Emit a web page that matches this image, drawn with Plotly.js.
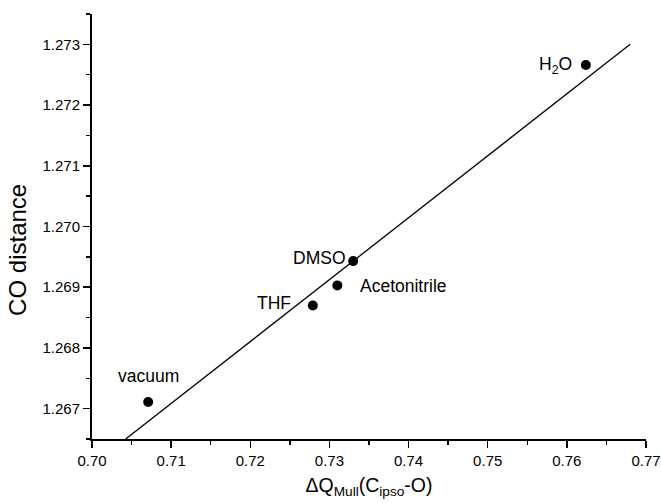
<!DOCTYPE html>
<html>
<head>
<meta charset="utf-8">
<script src="https://cdn.plot.ly/plotly-3.0.1.min.js"></script>
<style>html,body{margin:0;padding:0;background:#fff;}#chart{width:661px;height:503px;}</style>
</head>
<body>
<div id="chart"></div>
<script>
const solvents = ["vacuum", "THF", "Acetonitrile", "DMSO", "H<sub>2</sub>O"];
const dqMull = [0.7071, 0.7279, 0.7310, 0.7330, 0.7624];
const coDistance = [1.26711, 1.26870, 1.26903, 1.26943, 1.27266];
const fitX = [0.70426, 0.76800];
const fitY = [1.26650, 1.27300];
const xTickVals = [0.70, 0.71, 0.72, 0.73, 0.74, 0.75, 0.76, 0.77];
const yTickVals = [1.267, 1.268, 1.269, 1.270, 1.271, 1.272, 1.273];
const xTitle = "ΔQ<sub>Mull</sub>(C<sub>ipso</sub>-O)";
const yTitle = "CO distance";

const font = "Arial, 'Liberation Sans', sans-serif";
// label offsets (px) relative to each point
const labelShift = [
  {ax: 0, ay: -26, xanchor: "center"},
  {ax: -20, ay: -2, xanchor: "right"},
  {ax: 21, ay: 1, xanchor: "left"},
  {ax: -5, ay: -3, xanchor: "right"},
  {ax: -12, ay: 0, xanchor: "right"}
];

const traces = [
  {x: fitX, y: fitY, mode: "lines", line: {color: "#000", width: 1.3}, hoverinfo: "skip", showlegend: false},
  {x: dqMull, y: coDistance, mode: "markers", marker: {color: "#000", size: 10}, showlegend: false}
];

const annotations = solvents.map((s, i) => ({
  x: dqMull[i], y: coDistance[i], xref: "x", yref: "y",
  text: s, showarrow: false,
  xanchor: labelShift[i].xanchor, yanchor: "middle",
  xshift: labelShift[i].ax, yshift: -labelShift[i].ay,
  font: {family: font, size: 17.5, color: "#000"}
}));
// y-axis title, placed as in the reference (slightly below the axis centre)
annotations.push({
  x: 0, y: 0.445, xref: "paper", yref: "paper", xanchor: "center", yanchor: "middle",
  xshift: -74, text: yTitle, textangle: -90, showarrow: false,
  font: {family: font, size: 24, color: "#000"}
});

const layout = {
  width: 661, height: 503,
  margin: {l: 92, r: 15, t: 14, b: 64},
  paper_bgcolor: "#fff", plot_bgcolor: "#fff",
  font: {family: font, color: "#000"},
  showlegend: false,
  xaxis: {
    range: [0.70, 0.77], tickvals: xTickVals, ticktext: xTickVals.map(v => v.toFixed(2)),
    ticks: "outside", ticklen: 7, tickwidth: 1.5, tickcolor: "#000",
    minor: {dtick: 0.005, ticks: "outside", ticklen: 4, tickwidth: 1.5, tickcolor: "#000", showgrid: false},
    showline: true, linecolor: "#000", linewidth: 2, showgrid: false, zeroline: false,
    tickfont: {family: font, size: 15, color: "#000"},
    title: {text: xTitle, font: {family: font, size: 19.5, color: "#000"}, standoff: 10}
  },
  yaxis: {
    range: [1.2665, 1.2735], tickvals: yTickVals, ticktext: yTickVals.map(v => v.toFixed(3)),
    ticks: "outside", ticklen: 7, tickwidth: 1.5, tickcolor: "#000",
    minor: {dtick: 0.0005, ticks: "outside", ticklen: 4, tickwidth: 1.5, tickcolor: "#000", showgrid: false},
    showline: true, linecolor: "#000", linewidth: 2, showgrid: false, zeroline: false,
    tickfont: {family: font, size: 15, color: "#000"}
  },
  annotations: annotations
};

Plotly.newPlot("chart", traces, layout, {staticPlot: true, displayModeBar: false});
</script>
</body>
</html>
